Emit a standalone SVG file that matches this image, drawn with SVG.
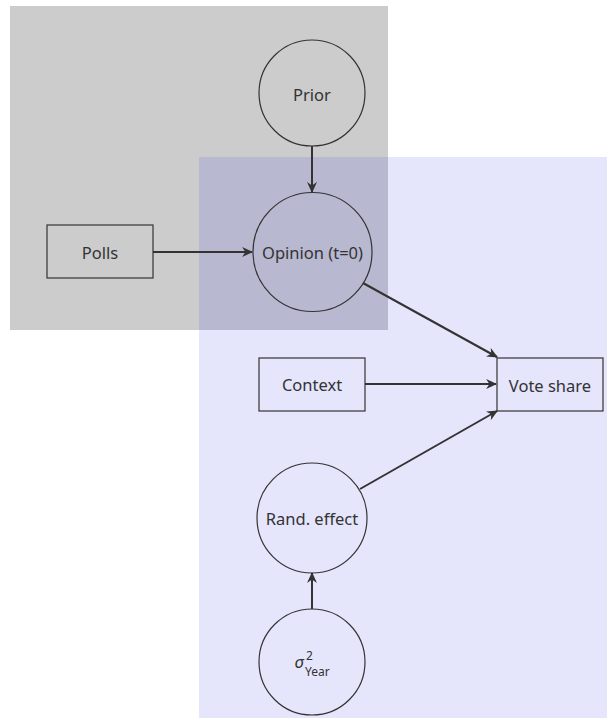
<svg xmlns="http://www.w3.org/2000/svg" width="607" height="721" viewBox="0 0 607 721">
<style>
.node{fill:none;stroke:#333;stroke-width:1.2}
.lbl{font-family:"Source Sans Pro","Noto Sans","Open Sans",sans-serif;font-size:16.5px;fill:#333;text-anchor:middle;dominant-baseline:central}
.small{font-family:"Source Sans Pro","Noto Sans","Open Sans",sans-serif;font-size:12px;fill:#333;text-anchor:start}
.edge{stroke:#333;stroke-width:2;fill:none;marker-end:url(#arr)}
</style>
<defs>
<marker id="arr" viewBox="0 0 10 10" refX="9" refY="5" markerWidth="11" markerHeight="11" markerUnits="userSpaceOnUse" orient="auto">
<path d="M0,0.5 L10,5 L0,9.5 L3,5 z" fill="#333"/>
</marker>
</defs>
<rect x="10" y="6" width="378" height="324" fill="#cccccc"/>
<rect x="199" y="157" width="408" height="561" fill="#e5e5fb"/>
<rect x="199" y="157" width="189" height="173" fill="#b8b8d0"/>
<g id="connectors">
<line class="edge" x1="312" y1="146" x2="312" y2="192"/>
<line class="edge" x1="153" y1="252" x2="252" y2="252"/>
<line class="edge" x1="363" y1="283" x2="497" y2="357"/>
<line class="edge" x1="365" y1="384" x2="496" y2="384"/>
<line class="edge" x1="360" y1="489" x2="497" y2="411"/>
<line class="edge" x1="312" y1="609" x2="312" y2="573"/>
</g>
<g id="prior"><circle class="node" cx="312" cy="93" r="53"/><text class="lbl" x="312" y="94">Prior</text></g>
<g id="opinion"><circle class="node" cx="312.5" cy="252" r="59.5"/><text class="lbl" x="312.5" y="252">Opinion (t=0)</text></g>
<g id="polls"><rect class="node" x="47" y="225" width="106" height="53"/><text class="lbl" x="100" y="252">Polls</text></g>
<g id="context"><rect class="node" x="259" y="358" width="106" height="53"/><text class="lbl" x="312" y="384">Context</text></g>
<g id="voteshare"><rect class="node" x="497" y="358" width="106" height="53"/><text class="lbl" x="550" y="385">Vote share</text></g>
<g id="randeffect"><circle class="node" cx="312" cy="518" r="55"/><text class="lbl" x="312" y="518">Rand. effect</text></g>
<g id="sigma"><circle class="node" cx="312" cy="662" r="53"/>
<text class="lbl" x="299" y="661" font-style="italic" font-size="19">σ</text>
<text class="small" x="306" y="660" font-size="12.5">2</text>
<text class="small" x="305" y="676">Year</text>
</g>
</svg>
